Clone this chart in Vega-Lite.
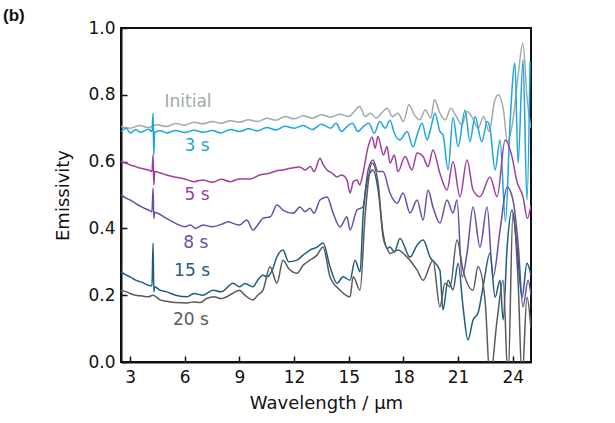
{
"$schema":"https://vega.github.io/schema/vega-lite/v6.json",
"width":410,"height":334,
"autosize":"none",
"padding":{"left":121,"top":28,"right":84,"bottom":61},
"background":"white",
"config":{"view":{"stroke":"#111","strokeWidth":2},"font":"DejaVu Sans"},
"title":{"text":"(b)","anchor":"start","frame":"group","dx":-118,"dy":10,"offset":4,"fontSize":17,"font":"Liberation Sans","fontWeight":"bold","color":"#111"},
"datasets":{
"spectra":[
{"s":"Initial","w":2.5,"e":0.705},{"s":"Initial","w":3.0,"e":0.70},{"s":"Initial","w":3.5,"e":0.708},{"s":"Initial","w":4.0,"e":0.702},{"s":"Initial","w":4.5,"e":0.71},{"s":"Initial","w":5.0,"e":0.705},{"s":"Initial","w":5.5,"e":0.714},{"s":"Initial","w":6.0,"e":0.709},{"s":"Initial","w":6.5,"e":0.718},{"s":"Initial","w":7.0,"e":0.713},{"s":"Initial","w":7.5,"e":0.72},{"s":"Initial","w":8.0,"e":0.715},{"s":"Initial","w":8.5,"e":0.722},{"s":"Initial","w":9.0,"e":0.718},{"s":"Initial","w":9.5,"e":0.725},{"s":"Initial","w":10.0,"e":0.72},{"s":"Initial","w":10.5,"e":0.73},{"s":"Initial","w":11.0,"e":0.724},{"s":"Initial","w":11.5,"e":0.735},{"s":"Initial","w":12.0,"e":0.728},{"s":"Initial","w":12.5,"e":0.737},{"s":"Initial","w":13.0,"e":0.73},{"s":"Initial","w":13.5,"e":0.74},{"s":"Initial","w":14.0,"e":0.733},{"s":"Initial","w":14.5,"e":0.742},{"s":"Initial","w":15.0,"e":0.735},{"s":"Initial","w":15.3,"e":0.75},{"s":"Initial","w":15.6,"e":0.765},{"s":"Initial","w":15.9,"e":0.735},{"s":"Initial","w":16.2,"e":0.745},{"s":"Initial","w":16.5,"e":0.73},{"s":"Initial","w":16.8,"e":0.745},{"s":"Initial","w":17.1,"e":0.76},{"s":"Initial","w":17.4,"e":0.735},{"s":"Initial","w":17.7,"e":0.745},{"s":"Initial","w":18.0,"e":0.72},{"s":"Initial","w":18.3,"e":0.77},{"s":"Initial","w":18.6,"e":0.74},{"s":"Initial","w":18.9,"e":0.725},{"s":"Initial","w":19.2,"e":0.755},{"s":"Initial","w":19.5,"e":0.73},{"s":"Initial","w":19.7,"e":0.785},{"s":"Initial","w":20.0,"e":0.745},{"s":"Initial","w":20.3,"e":0.725},{"s":"Initial","w":20.6,"e":0.76},{"s":"Initial","w":20.9,"e":0.735},{"s":"Initial","w":21.2,"e":0.71},{"s":"Initial","w":21.5,"e":0.75},{"s":"Initial","w":21.8,"e":0.73},{"s":"Initial","w":22.1,"e":0.70},{"s":"Initial","w":22.4,"e":0.735},{"s":"Initial","w":22.7,"e":0.69},{"s":"Initial","w":23.0,"e":0.78},{"s":"Initial","w":23.2,"e":0.80},{"s":"Initial","w":23.5,"e":0.75},{"s":"Initial","w":23.7,"e":0.66},{"s":"Initial","w":24.0,"e":0.72},{"s":"Initial","w":24.3,"e":0.86},{"s":"Initial","w":24.55,"e":0.955},{"s":"Initial","w":24.8,"e":0.78},{"s":"Initial","w":25.0,"e":0.70},

{"s":"3 s","w":2.5,"e":0.69},{"s":"3 s","w":2.8,"e":0.70},{"s":"3 s","w":3.0,"e":0.685},{"s":"3 s","w":3.3,"e":0.695},{"s":"3 s","w":3.6,"e":0.688},{"s":"3 s","w":4.0,"e":0.697},{"s":"3 s","w":4.2,"e":0.69},{"s":"3 s","w":4.26,"e":0.745},{"s":"3 s","w":4.3,"e":0.62},{"s":"3 s","w":4.35,"e":0.688},{"s":"3 s","w":4.7,"e":0.692},{"s":"3 s","w":5.0,"e":0.686},{"s":"3 s","w":5.5,"e":0.693},{"s":"3 s","w":6.0,"e":0.687},{"s":"3 s","w":6.5,"e":0.694},{"s":"3 s","w":7.0,"e":0.688},{"s":"3 s","w":7.5,"e":0.693},{"s":"3 s","w":8.0,"e":0.686},{"s":"3 s","w":8.5,"e":0.696},{"s":"3 s","w":9.0,"e":0.69},{"s":"3 s","w":9.5,"e":0.698},{"s":"3 s","w":10.0,"e":0.692},{"s":"3 s","w":10.5,"e":0.702},{"s":"3 s","w":11.0,"e":0.695},{"s":"3 s","w":11.5,"e":0.706},{"s":"3 s","w":12.0,"e":0.70},{"s":"3 s","w":12.5,"e":0.708},{"s":"3 s","w":13.0,"e":0.696},{"s":"3 s","w":13.5,"e":0.712},{"s":"3 s","w":14.0,"e":0.70},{"s":"3 s","w":14.3,"e":0.715},{"s":"3 s","w":14.6,"e":0.69},{"s":"3 s","w":14.9,"e":0.705},{"s":"3 s","w":15.2,"e":0.715},{"s":"3 s","w":15.5,"e":0.69},{"s":"3 s","w":15.8,"e":0.705},{"s":"3 s","w":16.1,"e":0.715},{"s":"3 s","w":16.4,"e":0.685},{"s":"3 s","w":16.7,"e":0.72},{"s":"3 s","w":17.0,"e":0.70},{"s":"3 s","w":17.26,"e":0.724},{"s":"3 s","w":17.5,"e":0.685},{"s":"3 s","w":17.81,"e":0.665},{"s":"3 s","w":18.2,"e":0.69},{"s":"3 s","w":18.53,"e":0.644},{"s":"3 s","w":18.75,"e":0.68},{"s":"3 s","w":19.02,"e":0.715},{"s":"3 s","w":19.3,"e":0.665},{"s":"3 s","w":19.5,"e":0.70},{"s":"3 s","w":19.73,"e":0.745},{"s":"3 s","w":20.0,"e":0.69},{"s":"3 s","w":20.17,"e":0.68},{"s":"3 s","w":20.45,"e":0.575},{"s":"3 s","w":20.72,"e":0.733},{"s":"3 s","w":21.0,"e":0.645},{"s":"3 s","w":21.38,"e":0.754},{"s":"3 s","w":21.65,"e":0.66},{"s":"3 s","w":21.93,"e":0.735},{"s":"3 s","w":22.3,"e":0.66},{"s":"3 s","w":22.6,"e":0.72},{"s":"3 s","w":22.75,"e":0.70},{"s":"3 s","w":23.03,"e":0.575},{"s":"3 s","w":23.3,"e":0.665},{"s":"3 s","w":23.6,"e":0.42},{"s":"3 s","w":23.85,"e":0.715},{"s":"3 s","w":24.12,"e":0.895},{"s":"3 s","w":24.29,"e":0.595},{"s":"3 s","w":24.56,"e":0.905},{"s":"3 s","w":24.78,"e":0.485},{"s":"3 s","w":24.95,"e":0.90},

{"s":"5 s","w":2.5,"e":0.60},{"s":"5 s","w":2.8,"e":0.595},{"s":"5 s","w":3.0,"e":0.59},{"s":"5 s","w":3.3,"e":0.585},{"s":"5 s","w":3.6,"e":0.58},{"s":"5 s","w":4.0,"e":0.575},{"s":"5 s","w":4.2,"e":0.57},{"s":"5 s","w":4.26,"e":0.62},{"s":"5 s","w":4.3,"e":0.53},{"s":"5 s","w":4.35,"e":0.57},{"s":"5 s","w":4.7,"e":0.565},{"s":"5 s","w":5.0,"e":0.56},{"s":"5 s","w":5.5,"e":0.553},{"s":"5 s","w":6.0,"e":0.548},{"s":"5 s","w":6.5,"e":0.54},{"s":"5 s","w":7.0,"e":0.545},{"s":"5 s","w":7.5,"e":0.538},{"s":"5 s","w":8.0,"e":0.547},{"s":"5 s","w":8.5,"e":0.54},{"s":"5 s","w":9.0,"e":0.548},{"s":"5 s","w":9.6,"e":0.548},{"s":"5 s","w":10.1,"e":0.56},{"s":"5 s","w":10.7,"e":0.566},{"s":"5 s","w":11.0,"e":0.572},{"s":"5 s","w":11.4,"e":0.575},{"s":"5 s","w":11.8,"e":0.58},{"s":"5 s","w":12.3,"e":0.584},{"s":"5 s","w":12.6,"e":0.575},{"s":"5 s","w":12.9,"e":0.585},{"s":"5 s","w":13.1,"e":0.57},{"s":"5 s","w":13.42,"e":0.61},{"s":"5 s","w":13.6,"e":0.59},{"s":"5 s","w":13.81,"e":0.575},{"s":"5 s","w":14.1,"e":0.565},{"s":"5 s","w":14.36,"e":0.554},{"s":"5 s","w":14.6,"e":0.56},{"s":"5 s","w":14.9,"e":0.545},{"s":"5 s","w":15.07,"e":0.506},{"s":"5 s","w":15.25,"e":0.54},{"s":"5 s","w":15.45,"e":0.545},{"s":"5 s","w":15.6,"e":0.53},{"s":"5 s","w":15.78,"e":0.565},{"s":"5 s","w":16.06,"e":0.644},{"s":"5 s","w":16.28,"e":0.674},{"s":"5 s","w":16.45,"e":0.64},{"s":"5 s","w":16.6,"e":0.675},{"s":"5 s","w":16.9,"e":0.62},{"s":"5 s","w":17.1,"e":0.645},{"s":"5 s","w":17.26,"e":0.596},{"s":"5 s","w":17.5,"e":0.62},{"s":"5 s","w":17.7,"e":0.57},{"s":"5 s","w":18.09,"e":0.615},{"s":"5 s","w":18.47,"e":0.575},{"s":"5 s","w":18.75,"e":0.626},{"s":"5 s","w":19.08,"e":0.615},{"s":"5 s","w":19.35,"e":0.585},{"s":"5 s","w":19.62,"e":0.635},{"s":"5 s","w":20.0,"e":0.565},{"s":"5 s","w":20.39,"e":0.515},{"s":"5 s","w":20.72,"e":0.60},{"s":"5 s","w":21.1,"e":0.495},{"s":"5 s","w":21.49,"e":0.605},{"s":"5 s","w":21.82,"e":0.515},{"s":"5 s","w":22.2,"e":0.495},{"s":"5 s","w":22.75,"e":0.554},{"s":"5 s","w":23.14,"e":0.495},{"s":"5 s","w":23.58,"e":0.665},{"s":"5 s","w":23.96,"e":0.614},{"s":"5 s","w":24.23,"e":0.54},{"s":"5 s","w":24.56,"e":0.495},{"s":"5 s","w":24.8,"e":0.43},{"s":"5 s","w":25.0,"e":0.47},

{"s":"8 s","w":2.5,"e":0.50},{"s":"8 s","w":2.8,"e":0.49},{"s":"8 s","w":3.0,"e":0.485},{"s":"8 s","w":3.3,"e":0.475},{"s":"8 s","w":3.6,"e":0.465},{"s":"8 s","w":4.0,"e":0.455},{"s":"8 s","w":4.2,"e":0.45},{"s":"8 s","w":4.26,"e":0.52},{"s":"8 s","w":4.3,"e":0.43},{"s":"8 s","w":4.35,"e":0.448},{"s":"8 s","w":4.7,"e":0.44},{"s":"8 s","w":5.0,"e":0.43},{"s":"8 s","w":5.5,"e":0.415},{"s":"8 s","w":6.0,"e":0.405},{"s":"8 s","w":6.3,"e":0.41},{"s":"8 s","w":6.6,"e":0.40},{"s":"8 s","w":7.0,"e":0.41},{"s":"8 s","w":7.5,"e":0.405},{"s":"8 s","w":8.0,"e":0.412},{"s":"8 s","w":8.4,"e":0.42},{"s":"8 s","w":8.65,"e":0.415},{"s":"8 s","w":9.0,"e":0.41},{"s":"8 s","w":9.4,"e":0.425},{"s":"8 s","w":9.74,"e":0.395},{"s":"8 s","w":10.0,"e":0.41},{"s":"8 s","w":10.29,"e":0.43},{"s":"8 s","w":10.7,"e":0.435},{"s":"8 s","w":11.06,"e":0.47},{"s":"8 s","w":11.39,"e":0.455},{"s":"8 s","w":11.94,"e":0.445},{"s":"8 s","w":12.32,"e":0.464},{"s":"8 s","w":12.6,"e":0.45},{"s":"8 s","w":12.87,"e":0.46},{"s":"8 s","w":13.1,"e":0.445},{"s":"8 s","w":13.42,"e":0.485},{"s":"8 s","w":13.81,"e":0.494},{"s":"8 s","w":14.14,"e":0.446},{"s":"8 s","w":14.52,"e":0.404},{"s":"8 s","w":14.9,"e":0.435},{"s":"8 s","w":15.07,"e":0.395},{"s":"8 s","w":15.45,"e":0.455},{"s":"8 s","w":15.78,"e":0.464},{"s":"8 s","w":16.06,"e":0.575},{"s":"8 s","w":16.33,"e":0.605},{"s":"8 s","w":16.6,"e":0.57},{"s":"8 s","w":16.88,"e":0.57},{"s":"8 s","w":17.26,"e":0.506},{"s":"8 s","w":17.65,"e":0.475},{"s":"8 s","w":17.98,"e":0.506},{"s":"8 s","w":18.36,"e":0.446},{"s":"8 s","w":18.75,"e":0.485},{"s":"8 s","w":19.08,"e":0.425},{"s":"8 s","w":19.35,"e":0.515},{"s":"8 s","w":19.62,"e":0.464},{"s":"8 s","w":20.0,"e":0.416},{"s":"8 s","w":20.39,"e":0.485},{"s":"8 s","w":20.72,"e":0.446},{"s":"8 s","w":20.94,"e":0.485},{"s":"8 s","w":21.22,"e":0.254},{"s":"8 s","w":21.5,"e":0.33},{"s":"8 s","w":21.82,"e":0.464},{"s":"8 s","w":22.2,"e":0.344},{"s":"8 s","w":22.59,"e":0.464},{"s":"8 s","w":22.92,"e":0.254},{"s":"8 s","w":23.3,"e":0.394},{"s":"8 s","w":23.69,"e":0.524},{"s":"8 s","w":24.01,"e":0.485},{"s":"8 s","w":24.3,"e":0.35},{"s":"8 s","w":24.56,"e":0.165},{"s":"8 s","w":24.84,"e":0.245},{"s":"8 s","w":25.0,"e":0.20},

{"s":"15 s","w":2.5,"e":0.27},{"s":"15 s","w":2.8,"e":0.26},{"s":"15 s","w":3.0,"e":0.255},{"s":"15 s","w":3.3,"e":0.245},{"s":"15 s","w":3.6,"e":0.24},{"s":"15 s","w":4.0,"e":0.23},{"s":"15 s","w":4.2,"e":0.228},{"s":"15 s","w":4.26,"e":0.356},{"s":"15 s","w":4.3,"e":0.21},{"s":"15 s","w":4.35,"e":0.225},{"s":"15 s","w":4.64,"e":0.215},{"s":"15 s","w":5.0,"e":0.21},{"s":"15 s","w":5.5,"e":0.20},{"s":"15 s","w":6.12,"e":0.195},{"s":"15 s","w":6.5,"e":0.205},{"s":"15 s","w":7.0,"e":0.20},{"s":"15 s","w":7.55,"e":0.215},{"s":"15 s","w":8.0,"e":0.21},{"s":"15 s","w":8.65,"e":0.236},{"s":"15 s","w":9.0,"e":0.225},{"s":"15 s","w":9.3,"e":0.235},{"s":"15 s","w":9.74,"e":0.225},{"s":"15 s","w":10.0,"e":0.245},{"s":"15 s","w":10.29,"e":0.26},{"s":"15 s","w":10.51,"e":0.255},{"s":"15 s","w":10.8,"e":0.275},{"s":"15 s","w":11.06,"e":0.315},{"s":"15 s","w":11.39,"e":0.335},{"s":"15 s","w":11.7,"e":0.30},{"s":"15 s","w":12.16,"e":0.305},{"s":"15 s","w":12.49,"e":0.32},{"s":"15 s","w":12.87,"e":0.335},{"s":"15 s","w":13.26,"e":0.344},{"s":"15 s","w":13.59,"e":0.356},{"s":"15 s","w":13.97,"e":0.285},{"s":"15 s","w":14.36,"e":0.236},{"s":"15 s","w":14.68,"e":0.255},{"s":"15 s","w":15.07,"e":0.245},{"s":"15 s","w":15.34,"e":0.305},{"s":"15 s","w":15.62,"e":0.27},{"s":"15 s","w":15.78,"e":0.434},{"s":"15 s","w":16.06,"e":0.554},{"s":"15 s","w":16.33,"e":0.575},{"s":"15 s","w":16.61,"e":0.515},{"s":"15 s","w":16.88,"e":0.386},{"s":"15 s","w":17.1,"e":0.34},{"s":"15 s","w":17.26,"e":0.344},{"s":"15 s","w":17.5,"e":0.33},{"s":"15 s","w":17.81,"e":0.37},{"s":"15 s","w":18.36,"e":0.314},{"s":"15 s","w":18.75,"e":0.35},{"s":"15 s","w":19.08,"e":0.365},{"s":"15 s","w":19.46,"e":0.314},{"s":"15 s","w":20.0,"e":0.275},{"s":"15 s","w":20.17,"e":0.156},{"s":"15 s","w":20.45,"e":0.245},{"s":"15 s","w":20.72,"e":0.216},{"s":"15 s","w":21.0,"e":0.296},{"s":"15 s","w":21.27,"e":0.165},{"s":"15 s","w":21.54,"e":0.066},{"s":"15 s","w":21.82,"e":0.126},{"s":"15 s","w":22.09,"e":0.146},{"s":"15 s","w":22.37,"e":0.225},{"s":"15 s","w":22.75,"e":0.326},{"s":"15 s","w":23.03,"e":0.194},{"s":"15 s","w":23.3,"e":0.245},{"s":"15 s","w":23.47,"e":0.126},{"s":"15 s","w":23.69,"e":0.344},{"s":"15 s","w":23.96,"e":0.455},{"s":"15 s","w":24.23,"e":0.344},{"s":"15 s","w":24.51,"e":0.194},{"s":"15 s","w":24.78,"e":0.296},{"s":"15 s","w":25.0,"e":0.26},

{"s":"20 s","w":2.5,"e":0.215},{"s":"20 s","w":2.8,"e":0.21},{"s":"20 s","w":3.0,"e":0.205},{"s":"20 s","w":3.3,"e":0.20},{"s":"20 s","w":3.6,"e":0.198},{"s":"20 s","w":4.0,"e":0.195},{"s":"20 s","w":4.26,"e":0.20},{"s":"20 s","w":4.64,"e":0.186},{"s":"20 s","w":5.0,"e":0.182},{"s":"20 s","w":5.5,"e":0.178},{"s":"20 s","w":6.12,"e":0.177},{"s":"20 s","w":6.5,"e":0.18},{"s":"20 s","w":6.84,"e":0.178},{"s":"20 s","w":7.2,"e":0.19},{"s":"20 s","w":7.6,"e":0.195},{"s":"20 s","w":8.0,"e":0.19},{"s":"20 s","w":8.65,"e":0.206},{"s":"20 s","w":9.0,"e":0.215},{"s":"20 s","w":9.3,"e":0.20},{"s":"20 s","w":9.74,"e":0.186},{"s":"20 s","w":10.0,"e":0.20},{"s":"20 s","w":10.29,"e":0.215},{"s":"20 s","w":10.68,"e":0.285},{"s":"20 s","w":11.06,"e":0.236},{"s":"20 s","w":11.39,"e":0.305},{"s":"20 s","w":11.7,"e":0.28},{"s":"20 s","w":12.16,"e":0.266},{"s":"20 s","w":12.5,"e":0.29},{"s":"20 s","w":12.87,"e":0.305},{"s":"20 s","w":13.26,"e":0.32},{"s":"20 s","w":13.59,"e":0.344},{"s":"20 s","w":13.97,"e":0.255},{"s":"20 s","w":14.52,"e":0.215},{"s":"20 s","w":15.07,"e":0.195},{"s":"20 s","w":15.24,"e":0.255},{"s":"20 s","w":15.62,"e":0.215},{"s":"20 s","w":15.89,"e":0.434},{"s":"20 s","w":16.28,"e":0.596},{"s":"20 s","w":16.61,"e":0.535},{"s":"20 s","w":16.88,"e":0.375},{"s":"20 s","w":17.1,"e":0.34},{"s":"20 s","w":17.26,"e":0.325},{"s":"20 s","w":17.7,"e":0.335},{"s":"20 s","w":18.09,"e":0.32},{"s":"20 s","w":18.75,"e":0.275},{"s":"20 s","w":19.08,"e":0.245},{"s":"20 s","w":19.62,"e":0.305},{"s":"20 s","w":20.0,"e":0.165},{"s":"20 s","w":20.28,"e":0.236},{"s":"20 s","w":20.56,"e":0.225},{"s":"20 s","w":20.94,"e":0.365},{"s":"20 s","w":21.27,"e":0.275},{"s":"20 s","w":21.82,"e":0.215},{"s":"20 s","w":22.09,"e":0.285},{"s":"20 s","w":22.48,"e":0.185},{"s":"20 s","w":22.75,"e":-0.05},{"s":"20 s","w":23.14,"e":0.126},{"s":"20 s","w":23.47,"e":0.245},{"s":"20 s","w":23.74,"e":-0.05},{"s":"20 s","w":24.01,"e":0.446},{"s":"20 s","w":24.29,"e":0.245},{"s":"20 s","w":24.51,"e":-0.05},{"s":"20 s","w":24.78,"e":0.194},{"s":"20 s","w":25.0,"e":0.10}
],
"labels":[
{"s":"Initial","w":6.18,"e":0.778,"t":"Initial"},
{"s":"3 s","w":6.67,"e":0.647,"t":"3 s"},
{"s":"5 s","w":6.67,"e":0.50,"t":"5 s"},
{"s":"8 s","w":6.6,"e":0.356,"t":"8 s"},
{"s":"15 s","w":6.4,"e":0.272,"t":"15 s"},
{"s":"20 s","w":6.34,"e":0.126,"t":"20 s"}
]},
"layer":[
{"data":{"name":"spectra"},
 "mark":{"type":"line","strokeWidth":1.5,"clip":true,"interpolate":"monotone"},
 "encoding":{
  "x":{"field":"w","type":"quantitative","scale":{"domain":[2.5,25],"nice":false,"zero":false},
   "axis":{"title":"Wavelength / µm","values":[3,4.5,6,7.5,9,10.5,12,13.5,15,16.5,18,19.5,21,22.5,24],
    "labelExpr":"datum.value % 3 === 0 ? datum.label : ''","grid":false,"domainColor":"#111","domainWidth":2,
    "tickColor":"#111","tickWidth":1.5,"tickSize":{"condition":{"test":"datum.value % 3 === 0","value":-6},"value":-3},
    "labelFontSize":17,"labelColor":"#111","labelPadding":13,"titleFontSize":18,"titleFontWeight":"normal","titleColor":"#111","titlePadding":9}},
  "y":{"field":"e","type":"quantitative","scale":{"domain":[0,1],"nice":false},
   "axis":{"title":"Emissivity","values":[0,0.1,0.2,0.3,0.4,0.5,0.6,0.7,0.8,0.9,1.0],
    "labelExpr":"round(datum.value*10) % 2 === 0 ? format(datum.value,'.1f') : ''","grid":false,"domainColor":"#111","domainWidth":2,
    "tickColor":"#111","tickWidth":1.5,"tickSize":{"condition":{"test":"round(datum.value*10) % 2 === 0","value":-6},"value":-3},
    "labelFontSize":17,"labelColor":"#111","labelPadding":12,"titleFontSize":18,"titleFontWeight":"normal","titleColor":"#111","titlePadding":15}},
  "color":{"field":"s","type":"nominal","legend":null,
   "scale":{"domain":["Initial","3 s","5 s","8 s","15 s","20 s"],"range":["#9eabab","#1ca6dc","#9c3f9e","#6a4dab","#1f5d7f","#5a5a5a"]}}
 }},
{"data":{"name":"labels"},
 "mark":{"type":"text","fontSize":17},
 "encoding":{
  "x":{"field":"w","type":"quantitative"},
  "y":{"field":"e","type":"quantitative"},
  "text":{"field":"t"},
  "color":{"field":"s","type":"nominal","legend":null}
 }}
]
}
